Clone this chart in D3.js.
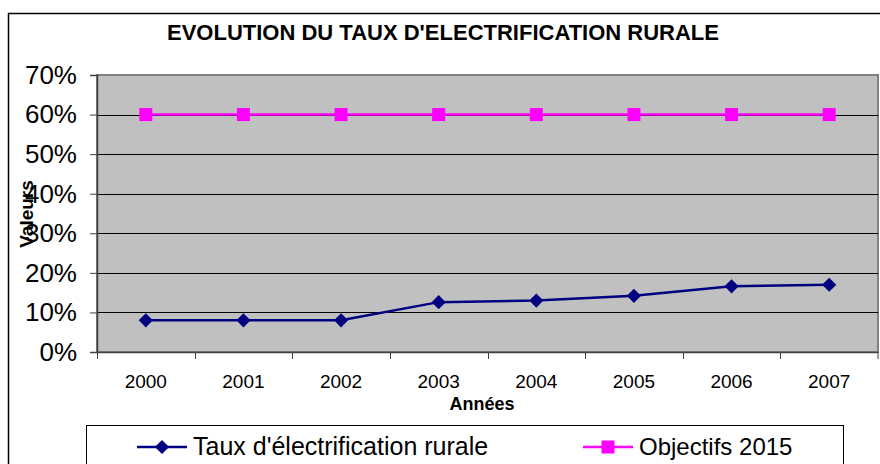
<!DOCTYPE html>
<html>
<head>
<meta charset="utf-8">
<script src="https://cdn.jsdelivr.net/npm/d3@7"></script>
<style>
  body { margin: 0; background: #fff; }
  svg { display: block; font-family: "Liberation Sans", Arial, sans-serif; }
</style>
</head>
<body>
<div class="chart"></div>
<script>
// data
var years = ["2000", "2001", "2002", "2003", "2004", "2005", "2006", "2007"];
var tauxRural = [0.08, 0.08, 0.08, 0.126, 0.13, 0.142, 0.166, 0.17];
var objectifs2015 = [0.6, 0.6, 0.6, 0.6, 0.6, 0.6, 0.6, 0.6];
var yTicks = [0, 0.1, 0.2, 0.3, 0.4, 0.5, 0.6, 0.7];
var seriesNames = ["Taux d'électrification rurale", "Objectifs 2015"];

var svgWidth = 880;
var svgHeight = 464;

// plot box
var plot = { left: 97, right: 878, top: 75, bottom: 352 };

var svg = d3.select(".chart")
  .append("svg")
  .attr("width", svgWidth)
  .attr("height", svgHeight);

// outer frame of the chart (runs off the right and bottom edge)
svg.append("rect")
  .attr("x", 8.5)
  .attr("y", 13.5)
  .attr("width", 900)
  .attr("height", 500)
  .attr("fill", "#fff")
  .attr("stroke", "#000")
  .attr("stroke-width", 1.5);

var xScale = d3.scaleBand()
  .domain(years)
  .range([plot.left, plot.right]);

var yScale = d3.scaleLinear()
  .domain([0, 0.7])
  .range([plot.bottom, plot.top]);

// grey plot area
svg.append("rect")
  .attr("x", plot.left)
  .attr("y", plot.top)
  .attr("width", plot.right - plot.left)
  .attr("height", plot.bottom - plot.top)
  .attr("fill", "#c0c0c0")
  .attr("stroke", "#808080")
  .attr("stroke-width", 2);

// horizontal gridlines
svg.append("g")
  .selectAll("line")
  .data(yTicks.filter(function(d) { return d > 0 && d < 0.7; }))
  .enter()
  .append("line")
  .attr("x1", plot.left)
  .attr("x2", plot.right)
  .attr("y1", function(d) { return Math.round(yScale(d)) + 0.5; })
  .attr("y2", function(d) { return Math.round(yScale(d)) + 0.5; })
  .attr("stroke", "#000")
  .attr("stroke-width", 1);

// y axis
var leftAxis = d3.axisLeft(yScale)
  .tickValues(yTicks)
  .tickFormat(d3.format(".0%"))
  .tickSize(7)
  .tickPadding(13);

var yAxisG = svg.append("g")
  .attr("transform", "translate(" + plot.left + ",0)")
  .call(leftAxis);
yAxisG.select(".domain").attr("stroke", "#404040").attr("stroke-width", 1.5);
yAxisG.selectAll(".tick line").attr("stroke", "#404040");
yAxisG.selectAll("text")
  .attr("font-size", 26)
  .attr("font-family", "Liberation Sans, Arial, sans-serif")
  .attr("fill", "#000");

// x axis: labels in the middle of each band
var bottomAxis = d3.axisBottom(xScale)
  .tickSize(0)
  .tickPadding(23);

var xAxisG = svg.append("g")
  .attr("transform", "translate(0," + plot.bottom + ")")
  .call(bottomAxis);
xAxisG.select(".domain").attr("stroke", "#404040").attr("stroke-width", 1.5);
xAxisG.selectAll("text")
  .attr("font-size", 19)
  .attr("font-family", "Liberation Sans, Arial, sans-serif")
  .attr("fill", "#000");

// x tick marks sit on the band edges
svg.append("g")
  .selectAll("line")
  .data(years.concat(["end"]))
  .enter()
  .append("line")
  .attr("x1", function(d) { return d === "end" ? plot.right : Math.round(xScale(d)) + 0.5; })
  .attr("x2", function(d) { return d === "end" ? plot.right : Math.round(xScale(d)) + 0.5; })
  .attr("y1", plot.bottom)
  .attr("y2", plot.bottom + 7)
  .attr("stroke", "#404040");

// the lines
var lineGen = d3.line()
  .x(function(d, i) { return xScale(years[i]) + xScale.bandwidth() / 2; })
  .y(function(d) { return yScale(d); });

svg.append("path")
  .datum(objectifs2015)
  .attr("d", lineGen)
  .attr("fill", "none")
  .attr("stroke", "#ff00ff")
  .attr("stroke-width", 2.5);

svg.append("path")
  .datum(tauxRural)
  .attr("d", lineGen)
  .attr("fill", "none")
  .attr("stroke", "#000080")
  .attr("stroke-width", 2.5);

var squareSym = d3.symbol().type(d3.symbolSquare).size(169);
var diamondSym = d3.symbol().type(d3.symbolSquare).size(100);

svg.append("g")
  .selectAll("path")
  .data(objectifs2015)
  .enter()
  .append("path")
  .attr("d", squareSym)
  .attr("transform", function(d, i) {
    return "translate(" + (xScale(years[i]) + xScale.bandwidth() / 2) + "," + yScale(d) + ")";
  })
  .attr("fill", "#ff00ff");

svg.append("g")
  .selectAll("path")
  .data(tauxRural)
  .enter()
  .append("path")
  .attr("d", diamondSym)
  .attr("transform", function(d, i) {
    return "translate(" + (xScale(years[i]) + xScale.bandwidth() / 2) + "," + yScale(d) + ") rotate(45)";
  })
  .attr("fill", "#000080");

// title
svg.append("text")
  .attr("x", 443)
  .attr("y", 40)
  .attr("text-anchor", "middle")
  .attr("font-size", 22)
  .attr("font-weight", "bold")
  .text("EVOLUTION DU TAUX D'ELECTRIFICATION RURALE");

// axis titles
svg.append("text")
  .attr("transform", "translate(33,214) rotate(-90)")
  .attr("text-anchor", "middle")
  .attr("font-size", 19)
  .attr("font-weight", "bold")
  .text("Valeurs");

svg.append("text")
  .attr("x", 482)
  .attr("y", 410)
  .attr("text-anchor", "middle")
  .attr("font-size", 18)
  .attr("font-weight", "bold")
  .text("Années");

// legend
var legend = svg.append("g");
legend.append("rect")
  .attr("x", 86.5)
  .attr("y", 425.5)
  .attr("width", 757)
  .attr("height", 80)
  .attr("fill", "#fff")
  .attr("stroke", "#000")
  .attr("stroke-width", 1);

var legendItems = [
  { name: seriesNames[0], x: 137, color: "#000080", sym: diamondSym, rot: 45, size: 25 },
  { name: seriesNames[1], x: 583, color: "#ff00ff", sym: squareSym, rot: 0, size: 24 }
];

legendItems.forEach(function(item) {
  legend.append("line")
    .attr("x1", item.x)
    .attr("x2", item.x + 50)
    .attr("y1", 447)
    .attr("y2", 447)
    .attr("stroke", item.color)
    .attr("stroke-width", 2.5);
  legend.append("path")
    .attr("d", item.sym)
    .attr("transform", "translate(" + (item.x + 25) + ",447) rotate(" + item.rot + ")")
    .attr("fill", item.color);
  legend.append("text")
    .attr("x", item.x + 56)
    .attr("y", 455)
    .attr("font-size", item.size)
    .text(item.name);
});
</script>
</body>
</html>
